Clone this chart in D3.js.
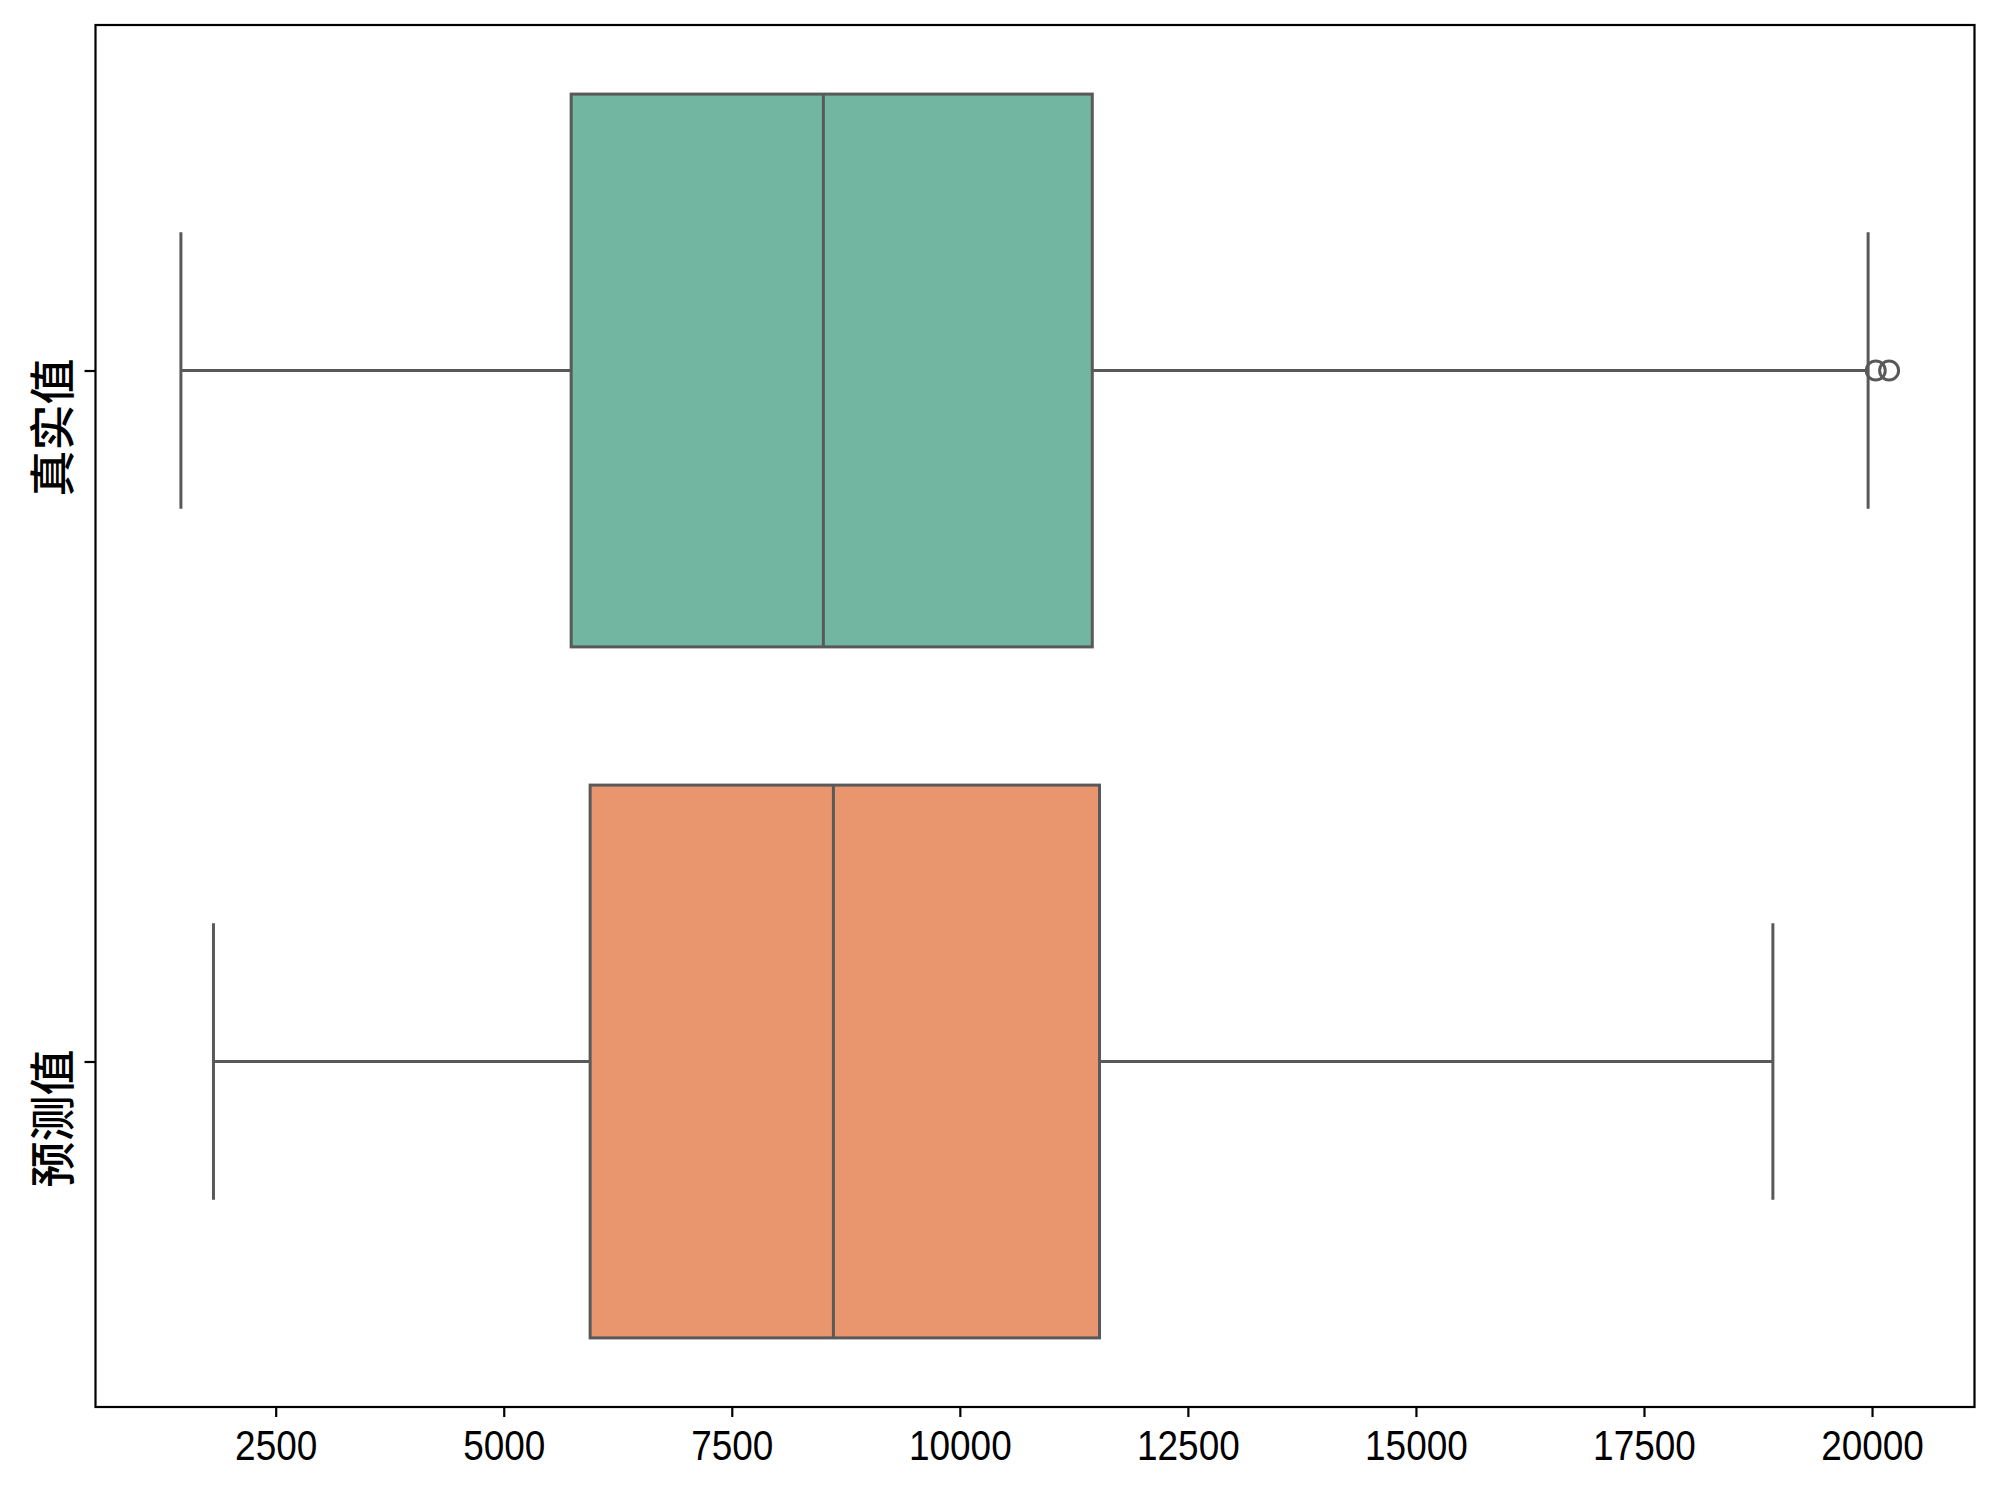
<!DOCTYPE html>
<html>
<head>
<meta charset="utf-8">
<script src="https://cdn.jsdelivr.net/npm/d3@7"></script>
<style>
  body { margin: 0; background: #fff; }
</style>
</head>
<body>
<svg id="chart"></svg>
<script>
// categories and box statistics
const categories = ["真实值", "预测值"];
const whiskerLow = [1461, 1818];
const q1 = [5739, 5947];
const median = [8504, 8614];
const q3 = [11452, 11531];
const whiskerHigh = [19957, 18913];
const fliers = [[20041, 20187], []];
const xTicks = [2500, 5000, 7500, 10000, 12500, 15000, 17500, 20000];
const boxColors = ["#72b5a0", "#e9966f"];

const width = 2000, height = 1492;
const margin = { top: 25, right: 25.5, bottom: 85, left: 95.5 };
const lineColor = "#595959";
const lw = 3;

const svg = d3.select("#chart").attr("width", width).attr("height", height);

// x range padded by 5% like matplotlib
const lo = d3.min(whiskerLow), hi = d3.max(fliers.flat().concat(whiskerHigh));
const pad = (hi - lo) * 0.05;
const x = d3.scaleLinear()
  .domain([lo - pad, hi + pad])
  .range([margin.left, width - margin.right]);

const y = d3.scalePoint()
  .domain(categories)
  .range([margin.top, height - margin.bottom])
  .padding(0.5);
const step = y.step();
const boxH = step * 0.8;
const capH = step * 0.4;

const data = categories.map((c, i) => ({
  name: c, lo: whiskerLow[i], q1: q1[i], med: median[i], q3: q3[i],
  hi: whiskerHigh[i], fliers: fliers[i], color: boxColors[i]
}));

const g = svg.append("g");
const box = g.selectAll("g.box").data(data).join("g").attr("class", "box");

// whiskers
box.append("line")
  .attr("x1", (d) => x(d.lo)).attr("x2", (d) => x(d.q1))
  .attr("y1", (d) => y(d.name)).attr("y2", (d) => y(d.name));
box.append("line")
  .attr("x1", (d) => x(d.q3)).attr("x2", (d) => x(d.hi))
  .attr("y1", (d) => y(d.name)).attr("y2", (d) => y(d.name));
// caps
box.append("line")
  .attr("x1", (d) => x(d.lo)).attr("x2", (d) => x(d.lo))
  .attr("y1", (d) => y(d.name) - capH / 2).attr("y2", (d) => y(d.name) + capH / 2);
box.append("line")
  .attr("x1", (d) => x(d.hi)).attr("x2", (d) => x(d.hi))
  .attr("y1", (d) => y(d.name) - capH / 2).attr("y2", (d) => y(d.name) + capH / 2);
box.selectAll("line").attr("stroke", lineColor).attr("stroke-width", lw);

// boxes
box.append("rect")
  .attr("x", (d) => x(d.q1))
  .attr("y", (d) => y(d.name) - boxH / 2)
  .attr("width", (d) => x(d.q3) - x(d.q1))
  .attr("height", boxH)
  .attr("fill", (d) => d.color)
  .attr("stroke", lineColor)
  .attr("stroke-width", lw);

// medians
box.append("line")
  .attr("x1", (d) => x(d.med)).attr("x2", (d) => x(d.med))
  .attr("y1", (d) => y(d.name) - boxH / 2).attr("y2", (d) => y(d.name) + boxH / 2)
  .attr("stroke", lineColor).attr("stroke-width", lw);

// outliers
box.selectAll("circle")
  .data((d) => d.fliers.map((v) => ({ v, name: d.name })))
  .join("circle")
  .attr("cx", (d) => x(d.v))
  .attr("cy", (d) => y(d.name))
  .attr("r", 9.5)
  .attr("fill", "none")
  .attr("stroke", lineColor)
  .attr("stroke-width", lw);

// frame
svg.append("rect")
  .attr("x", margin.left).attr("y", margin.top)
  .attr("width", width - margin.left - margin.right)
  .attr("height", height - margin.top - margin.bottom)
  .attr("fill", "none").attr("stroke", "#000").attr("stroke-width", 2.2);

// x axis
const xAxis = svg.append("g")
  .attr("transform", `translate(0,${height - margin.bottom})`)
  .call(d3.axisBottom(x).tickValues(xTicks).tickSize(10).tickPadding(13).tickFormat(d3.format("d")));
xAxis.select(".domain").remove();
xAxis.selectAll(".tick line").attr("stroke", "#000").attr("stroke-width", 2.2);
// narrow digits: squeeze the glyphs horizontally around the tick
xAxis.selectAll(".tick text")
  .attr("fill", "#000")
  .attr("transform", "scale(0.88,1)")
  .style("font-family", "'Liberation Sans', Arial, sans-serif")
  .style("font-size", "42px");

// y axis
const yAxis = svg.append("g")
  .attr("transform", `translate(${margin.left},0)`)
  .call(d3.axisLeft(y).tickSize(11).tickFormat(""));
yAxis.select(".domain").remove();
yAxis.selectAll(".tick line").attr("stroke", "#000").attr("stroke-width", 2.2);

svg.append("g").selectAll("text")
  .data(categories)
  .join("text")
  .attr("transform", (d) => `translate(49,${y(d) + 57}) rotate(-90)`)
  .attr("text-anchor", "middle")
  .attr("dominant-baseline", "central")
  .style("font-family", "'Noto Sans CJK SC', sans-serif")
  .style("font-size", "46px")
  .style("font-weight", 500)
  .attr("fill", "#000")
  .text((d) => d);
</script>
</body>
</html>
